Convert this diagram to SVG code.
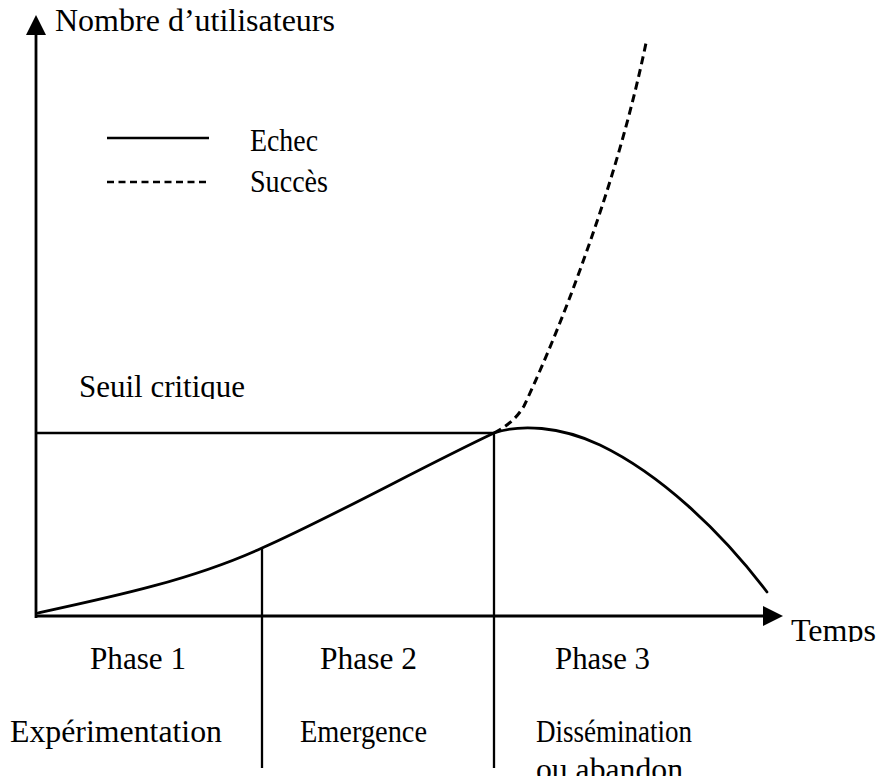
<svg xmlns="http://www.w3.org/2000/svg" width="878" height="776" viewBox="0 0 878 776">
  <style>
    .t { font-family: "Liberation Serif", "Times New Roman", serif; font-size: 31px; fill: #000; }
    .ln { stroke: #000; stroke-width: 2.3; fill: none; }
    .ax { stroke: #000; stroke-width: 2.8; fill: none; }
    .cv { stroke: #000; stroke-width: 2.8; fill: none; stroke-linecap: round; }
    .dash { stroke: #000; stroke-width: 3; fill: none; stroke-dasharray: 8 5; }
  </style>
  <defs>
    <marker id="arrow" markerUnits="userSpaceOnUse" viewBox="0 0 20 20" refX="2" refY="10" markerWidth="20" markerHeight="20" orient="auto">
      <path d="M0,0 L20,10 L0,20 Z" fill="#000"/>
    </marker>
    <clipPath id="clipSeuil"><rect x="0" y="350" width="300" height="49"/></clipPath>
    <clipPath id="clipTemps"><rect x="780" y="600" width="98" height="42"/></clipPath>
  </defs>
  <rect width="878" height="776" fill="#fff"/>

  <g id="connectors">
    <line id="y-axis" class="ax" x1="36" y1="618" x2="36" y2="33" marker-end="url(#arrow)"/>
    <line id="x-axis" class="ax" x1="35" y1="616" x2="765" y2="616" marker-end="url(#arrow)"/>
    <line id="threshold" class="ln" x1="36" y1="433" x2="495" y2="433"/>
    <line id="div1" class="ln" x1="262" y1="548" x2="262" y2="768"/>
    <line id="div2" class="ln" x1="494" y1="433" x2="494" y2="768"/>
    <path id="echec-curve" class="cv" d="M38,613 C112,597 192,580 262,548 C330,518 420,468 494,433 C520,424 560,426 600,445 C660,474 720,530 767,592"/>
    <path id="succes-curve" class="dash" d="M494,433 Q514,423 524,406 C540,372 555,336 570,297 C596,228 626,140 646,43"/>
  </g>

  <g id="legend">
    <line class="ln" x1="107" y1="138" x2="209" y2="138"/>
    <line class="ln" x1="107" y1="182" x2="209" y2="182" stroke-dasharray="7 4.5"/>
    <text class="t" x="250" y="151" textLength="68" lengthAdjust="spacingAndGlyphs">Echec</text>
    <text class="t" x="250" y="192" textLength="78" lengthAdjust="spacingAndGlyphs">Succès</text>
  </g>

  <g id="axis-labels">
    <text class="t" x="55" y="31" textLength="280" lengthAdjust="spacingAndGlyphs">Nombre d’utilisateurs</text>
    <text class="t" x="791" y="641" textLength="85" lengthAdjust="spacingAndGlyphs" clip-path="url(#clipTemps)">Temps</text>
    <text class="t" x="79" y="397" textLength="166" lengthAdjust="spacingAndGlyphs" clip-path="url(#clipSeuil)">Seuil critique</text>
  </g>

  <g id="phase1">
    <text class="t" x="90" y="669" textLength="96" lengthAdjust="spacingAndGlyphs">Phase 1</text>
    <text class="t" x="10" y="742" textLength="212" lengthAdjust="spacingAndGlyphs">Expérimentation</text>
  </g>
  <g id="phase2">
    <text class="t" x="320" y="669" textLength="97" lengthAdjust="spacingAndGlyphs">Phase 2</text>
    <text class="t" x="300" y="742" textLength="127" lengthAdjust="spacingAndGlyphs">Emergence</text>
  </g>
  <g id="phase3">
    <text class="t" x="555" y="669" textLength="95" lengthAdjust="spacingAndGlyphs">Phase 3</text>
    <text class="t" x="536" y="742" textLength="156" lengthAdjust="spacingAndGlyphs">Dissémination</text>
    <text class="t" x="536" y="780" textLength="147" lengthAdjust="spacingAndGlyphs">ou abandon</text>
  </g>
</svg>
